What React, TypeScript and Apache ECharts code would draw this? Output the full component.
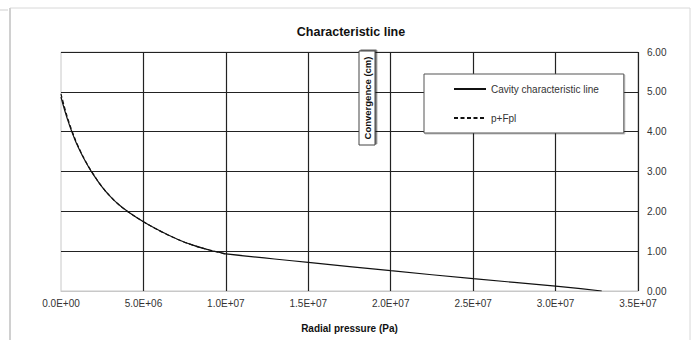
import React, { useEffect, useRef } from "react";
import * as echarts from "echarts";

const TITLE = "Characteristic line";
const X_NAME = "Radial pressure (Pa)";
const Y_NAME = "Convergence (cm)";
const SERIES_NAMES = ["Cavity characteristic line", "p+Fpl"];

const cavityPressure = [0, 0.25e6, 0.5e6, 0.75e6, 1e6, 1.5e6, 2e6, 2.5e6, 3e6, 3.5e6, 4e6, 5e6, 6e6, 7e6, 8e6, 9e6, 9.7e6, 1e7, 1.5e7, 2e7, 2.5e7, 3e7, 3.28e7];
const cavityConvergence = [4.87, 4.5, 4.18, 3.9, 3.65, 3.24, 2.9, 2.61, 2.37, 2.17, 2.01, 1.74, 1.51, 1.31, 1.15, 1.03, 0.96, 0.93, 0.72, 0.51, 0.31, 0.12, 0.0];

const fplPressure = [0, 0.25e6, 0.5e6, 0.75e6, 1e6, 1.5e6, 2e6, 2.5e6, 3e6, 3.5e6, 4e6, 5e6, 6e6, 7e6, 8e6, 9e6, 1e7];
const fplConvergence = [4.95, 4.56, 4.22, 3.93, 3.67, 3.25, 2.91, 2.61, 2.37, 2.17, 2.01, 1.74, 1.51, 1.31, 1.15, 1.03, 0.93];

const xTicks = { min: 0, max: 3.5e7, interval: 5e6 };
const yTicks = { min: 0, max: 6, interval: 1 };

function fmtSci(v: number): string {
  if (v === 0) return "0.0E+00";
  const [m, e] = v.toExponential(1).split("e");
  const exp = parseInt(e, 10);
  const sign = exp < 0 ? "-" : "+";
  const abs = Math.abs(exp);
  return `${m}E${sign}${abs < 10 ? "0" + abs : abs}`;
}

export default function App() {
  const ref = useRef<HTMLDivElement>(null);
  useEffect(() => {
    if (!ref.current) return;
    const chart = echarts.init(ref.current, null, { renderer: "svg" });
    const font = "Liberation Sans, Arial, sans-serif";
    chart.setOption({
      animation: false,
      backgroundColor: "#ffffff",
      title: {
        text: TITLE,
        left: 346,
        textAlign: "center",
        top: 20,
        textStyle: { fontFamily: font, fontSize: 12.5, fontWeight: "bold", color: "#111" },
      },
      grid: {
        left: 61,
        right: 59,
        top: 52,
        bottom: 49,
        show: true,
        borderColor: "#c8c8c8",
        borderWidth: 1,
        backgroundColor: "#fff",
      },
      legend: {
        orient: "vertical",
        left: 424,
        top: 74,
        padding: [10, 25, 10, 29],
        itemWidth: 32,
        itemHeight: 12,
        itemGap: 19,
        backgroundColor: "#fff",
        borderColor: "#555",
        borderWidth: 1,
        shadowColor: "rgba(0,0,0,0.25)",
        shadowOffsetX: 1,
        shadowOffsetY: 1,
        itemStyle: { opacity: 0 },
        textStyle: { fontFamily: font, fontSize: 10, color: "#333" },
        data: SERIES_NAMES,
      },
      xAxis: {
        type: "value",
        min: xTicks.min,
        max: xTicks.max,
        interval: xTicks.interval,
        name: X_NAME,
        nameLocation: "middle",
        nameGap: 32,
        nameTextStyle: { fontFamily: font, fontSize: 10, fontWeight: "bold", color: "#111" },
        axisLine: { show: true, lineStyle: { color: "#c8c8c8" } },
        axisTick: { show: false },
        axisLabel: { fontFamily: font, fontSize: 10, color: "#333", margin: 7, formatter: (v: number) => fmtSci(v) },
        splitLine: { show: true, showMinLine: false, lineStyle: { color: "#222", width: 1.2 } },
      },
      yAxis: {
        type: "value",
        position: "right",
        min: yTicks.min,
        max: yTicks.max,
        interval: yTicks.interval,
        axisLine: { show: false },
        axisTick: { show: false },
        axisLabel: { fontFamily: font, fontSize: 10, color: "#333", margin: 9, formatter: (v: number) => v.toFixed(2) },
        splitLine: { show: true, showMinLine: false, lineStyle: { color: "#222", width: 1.2 } },
      },
      series: [
        {
          name: SERIES_NAMES[1],
          type: "line",
          data: fplPressure.map((p, i) => [p, fplConvergence[i]]),
          symbol: "none",
          smooth: 0.5,
          lineStyle: { color: "#111", width: 1.2, type: [4, 2.5] },
          itemStyle: { color: "#111" },
          z: 3,
        },
        {
          name: SERIES_NAMES[0],
          type: "line",
          data: cavityPressure.map((p, i) => [p, cavityConvergence[i]]),
          symbol: "none",
          smooth: 0.5,
          lineStyle: { color: "#111", width: 1.2 },
          itemStyle: { color: "#111" },
          z: 4,
        },
      ],
      graphic: [
        { type: "line", shape: { x1: 10, y1: 8, x2: 690, y2: 8 }, style: { stroke: "#d8d8d8", lineWidth: 1 }, silent: true },
        { type: "line", shape: { x1: 10, y1: 8, x2: 10, y2: 340 }, style: { stroke: "#d0d0d0", lineWidth: 2 }, silent: true },
        { type: "line", shape: { x1: 690, y1: 8, x2: 690, y2: 340 }, style: { stroke: "#d8d8d8", lineWidth: 1 }, silent: true },
        { type: "line", shape: { x1: 0, y1: 10, x2: 8, y2: 10 }, style: { stroke: "#d0d0d0", lineWidth: 1 }, silent: true },
        {
          type: "rect",
          shape: { x: 359, y: 51, width: 16, height: 94 },
          style: { fill: "#fff", stroke: "#444", lineWidth: 1, shadowColor: "rgba(0,0,0,0.6)", shadowOffsetX: 1.5, shadowOffsetY: -1 },
          z: 100,
        },
        {
          type: "text",
          x: 367,
          y: 98,
          rotation: Math.PI / 2,
          style: {
            text: Y_NAME,
            fontFamily: font,
            fontSize: 9.5,
            fontWeight: "bold",
            fill: "#111",
            align: "center",
            verticalAlign: "middle",
          },
          z: 101,
        },
      ],
    });
    return () => chart.dispose();
  }, []);
  return <div ref={ref} style={{ position: "fixed", left: 0, top: 0, width: 697, height: 340 }} />;
}
